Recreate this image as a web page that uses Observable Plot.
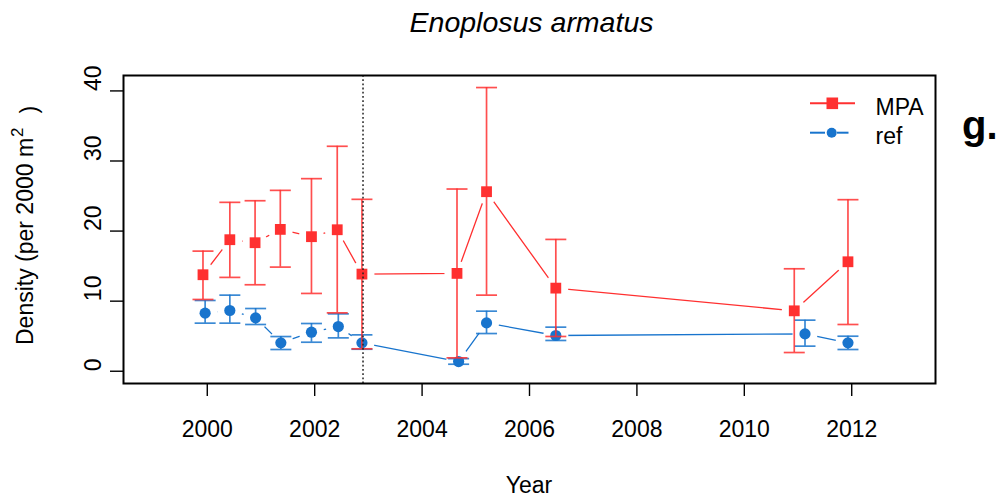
<!DOCTYPE html>
<html>
<head>
<meta charset="utf-8">
<script src="https://cdn.jsdelivr.net/npm/d3@7"></script>
<script src="https://cdn.jsdelivr.net/npm/@observablehq/plot@0.6"></script>
<style>
  html, body { margin: 0; padding: 0; background: #fff; }
  #chart { width: 1006px; height: 499px; }
</style>
</head>
<body>
<div id="chart"></div>
<script>
// ---- data ----
const title = "Enoplosus armatus";
const panelTag = "g.";
const xTicks = [2000, 2002, 2004, 2006, 2008, 2010, 2012];
const yTicks = [0, 10, 20, 30, 40];
const mpaStart = 2002.9;

const mpaYear = [1999.92, 2000.42, 2000.89, 2001.36, 2001.94, 2002.42, 2002.88, 2004.65, 2005.2, 2006.49, 2010.93, 2011.93];
const mpaMean = [13.77, 18.77, 18.34, 20.24, 19.2, 20.19, 13.86, 13.96, 25.62, 11.86, 8.62, 15.62];
const mpaLo   = [10.24, 13.39, 12.34, 14.86, 11.1, 8.33, 3.2, 1.91, 10.86, 4.96, 2.67, 6.67];
const mpaHi   = [17.14, 24.1, 24.33, 25.81, 27.48, 32.1, 24.53, 26.0, 40.48, 18.81, 14.62, 24.48];

const refYear = [1999.96, 2000.42, 2000.9, 2001.37, 2001.94, 2002.44, 2002.88, 2004.68, 2005.2, 2006.49, 2011.13, 2011.93];
const refMean = [8.29, 8.67, 7.62, 4.05, 5.57, 6.38, 4.05, 1.38, 6.9, 5.1, 5.33, 4.05];
const refLo   = [6.86, 6.86, 6.67, 3.1, 4.14, 4.76, 3.14, 1.0, 5.38, 4.39, 3.58, 3.1];
const refHi   = [10.1, 10.86, 8.95, 4.95, 6.81, 8.19, 5.19, 1.8, 8.57, 6.29, 7.29, 5.0];

const RED = "#FF3030";
const BLUE = "#1874CD";

const mpa = mpaYear.map((x, i) => ({x, y: mpaMean[i], lo: mpaLo[i], hi: mpaHi[i]}));
const ref = refYear.map((x, i) => ({x, y: refMean[i], lo: refLo[i], hi: refHi[i]}));

const capSymbol = { draw(ctx) { ctx.moveTo(-10.5, 0); ctx.lineTo(10.5, 0); } };
const squareSymbol = { draw(ctx) { ctx.rect(-5.4, -5.4, 10.8, 10.8); } };

function errorMarks(data, color) {
  return [
    Plot.ruleX(data, {x: "x", y1: "lo", y2: "hi", stroke: color, strokeWidth: 1.7, strokeOpacity: 0.85}),
    Plot.dot(data, {x: "x", y: "lo", symbol: capSymbol, stroke: color, fill: "none", strokeWidth: 1.7, strokeOpacity: 0.85}),
    Plot.dot(data, {x: "x", y: "hi", symbol: capSymbol, stroke: color, fill: "none", strokeWidth: 1.7, strokeOpacity: 0.85})
  ];
}

const FONT = "'Liberation Sans', Arial, Helvetica, sans-serif";

const plot = Plot.plot({
  width: 1006,
  height: 499,
  marginLeft: 123,
  marginRight: 71,
  marginTop: 75,
  marginBottom: 116,
  style: { fontFamily: FONT, background: "#fff" },
  x: { domain: [1998.44, 2013.56] },
  y: { domain: [-1.75, 42.2] },
  marks: [
    // connecting lines
    Plot.line(ref, {x: "x", y: "y", stroke: BLUE, strokeWidth: 1.3}),
    Plot.line(mpa, {x: "x", y: "y", stroke: RED, strokeWidth: 1.3}),
    // gaps around points (type = "b")
    Plot.dot(ref, {x: "x", y: "y", r: 12.5, fill: "white"}),
    Plot.dot(mpa, {x: "x", y: "y", r: 12.5, fill: "white"}),
    // ref series
    ...errorMarks(ref, BLUE),
    Plot.dot(ref, {x: "x", y: "y", r: 5.6, fill: BLUE}),
    // MPA series
    ...errorMarks(mpa, RED),
    Plot.dot(mpa, {x: "x", y: "y", symbol: squareSymbol, fill: RED}),
    // MPA start
    Plot.ruleX([mpaStart], {stroke: "#222", strokeWidth: 1.5, strokeDasharray: "1.8,2.4"}),
    // axes
    Plot.axisX({ticks: xTicks, tickSize: 13, tickPadding: 24, fontSize: 23, label: null, tickFormat: d => String(d), strokeWidth: 1.4}),
    Plot.axisY({ticks: yTicks, tickSize: 13, tickFormat: () => "", label: null, strokeWidth: 1.4}),
    Plot.text(yTicks, {y: d => d, text: d => String(d), frameAnchor: "left", dx: -29.5, rotate: -90, fontSize: 23, fill: "black"}),
    Plot.frame({stroke: "black", strokeWidth: 2})
  ]
});

document.getElementById("chart").appendChild(plot);

const svg = d3.select(plot);

// title
svg.append("text")
  .attr("x", 531.5).attr("y", 31.5)
  .attr("text-anchor", "middle")
  .style("font-family", FONT).style("font-style", "italic").style("font-size", "28.5px")
  .attr("fill", "black")
  .text(title);

// x label
svg.append("text")
  .attr("x", 529).attr("y", 493)
  .attr("text-anchor", "middle")
  .style("font-family", FONT).style("font-size", "23px")
  .attr("fill", "black")
  .text("Year");

// y label with superscript
const yl = svg.append("text")
  .attr("transform", "translate(33,345) rotate(-90)")
  .attr("text-anchor", "start")
  .style("font-family", FONT).style("font-size", "23px")
  .attr("fill", "black");
yl.append("tspan").text("Density (per 2000 m");
yl.append("tspan").attr("dx", 1).attr("dy", "-0.6em").style("font-size", "17px").text("2");
yl.append("tspan").attr("dx", 14).attr("dy", "0.6em").text(")");

// legend
const lg = svg.append("g").style("font-family", FONT).style("font-size", "23px").attr("text-anchor", "start");
lg.append("line").attr("x1", 810).attr("x2", 855).attr("y1", 103.3).attr("y2", 103.3).attr("stroke", RED).attr("stroke-width", 2);
lg.append("rect").attr("x", 832.3 - 5.8).attr("y", 103.3 - 5.8).attr("width", 11.6).attr("height", 11.6).attr("fill", RED);
lg.append("line").attr("x1", 810).attr("x2", 825).attr("y1", 132.7).attr("y2", 132.7).attr("stroke", BLUE).attr("stroke-width", 2);
lg.append("line").attr("x1", 837).attr("x2", 848.5).attr("y1", 132.7).attr("y2", 132.7).attr("stroke", BLUE).attr("stroke-width", 2);
lg.append("circle").attr("cx", 831.7).attr("cy", 132.7).attr("r", 5).attr("fill", BLUE);
lg.append("text").attr("x", 875.5).attr("y", 115).attr("text-anchor", "start").attr("fill", "black").text("MPA");
lg.append("text").attr("x", 875.5).attr("y", 143.5).attr("text-anchor", "start").attr("fill", "black").text("ref");

// panel tag
svg.append("text")
  .attr("x", 962).attr("y", 138.5)
  .attr("text-anchor", "start")
  .style("font-family", FONT).style("font-weight", "bold").style("font-size", "40px")
  .attr("fill", "black")
  .text(panelTag);
</script>
</body>
</html>
